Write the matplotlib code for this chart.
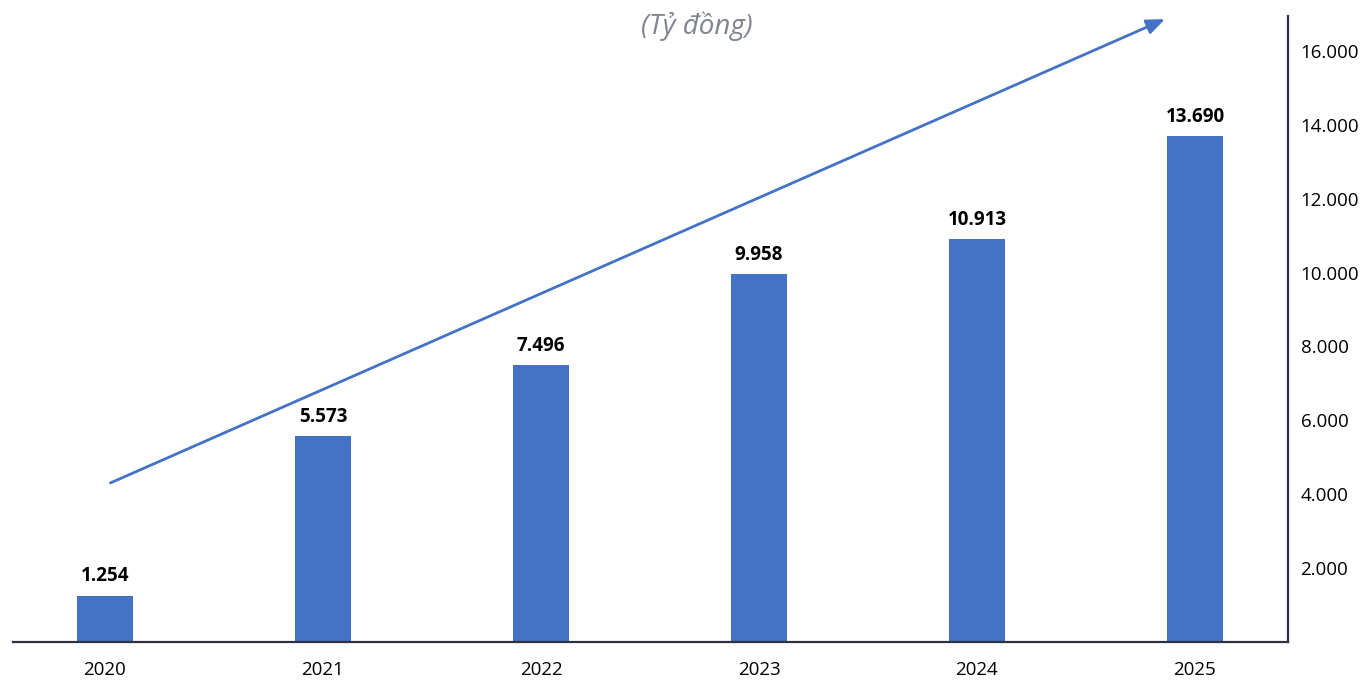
import matplotlib.pyplot as plt

plt.rcParams['font.family'] = ['Open Sans', 'DejaVu Sans']

years = ['2020', '2021', '2022', '2023', '2024', '2025']
values = [1254, 5573, 7496, 9958, 10913, 13690]
yticks = [2000, 4000, 6000, 8000, 10000, 12000, 14000, 16000]


def vn(n):
    return f"{n:,}".replace(',', '.')


fig = plt.figure(figsize=(13.63, 6.83), dpi=100)
ax = fig.add_axes([0.0095, 0.0602, 0.9355, 0.9164])

x = range(len(years))
bars = ax.bar(x, values, width=0.26, color='#4472C4', zorder=2)
for b, v in zip(bars, values):
    ax.text(b.get_x() + b.get_width() / 2, v + 250, vn(v), ha='center', va='bottom',
            fontsize=13.5, fontweight='bold', color='black')

ax.set_xlim(-0.422, 5.427)
ax.set_ylim(0, 16950)
ax.set_xticks(list(x))
ax.set_xticklabels(years, fontsize=13.5)
ax.yaxis.tick_right()
ax.set_yticks(yticks)
ax.set_yticklabels([vn(t) for t in yticks], fontsize=13.5)
ax.tick_params(axis='both', length=0)
ax.tick_params(axis='x', pad=14)
ax.tick_params(axis='y', pad=9)

for s in ['top', 'left']:
    ax.spines[s].set_visible(False)
for s in ['bottom', 'right']:
    ax.spines[s].set_color('#2E3140')
    ax.spines[s].set_linewidth(1.6)

# trend arrow
ax.annotate('', xy=(0.9035, 0.995), xytext=(0.0765, 0.254), xycoords='axes fraction',
            arrowprops=dict(arrowstyle='-|>,head_length=1.1,head_width=0.45',
                            color='#4472C4', lw=2, shrinkA=0, shrinkB=0))

fig.text(0.511, 0.962, '(Tỷ đồng)', ha='center', va='center', fontsize=20,
         style='italic', color='#80848F')

fig.savefig('out.png', dpi=100)
